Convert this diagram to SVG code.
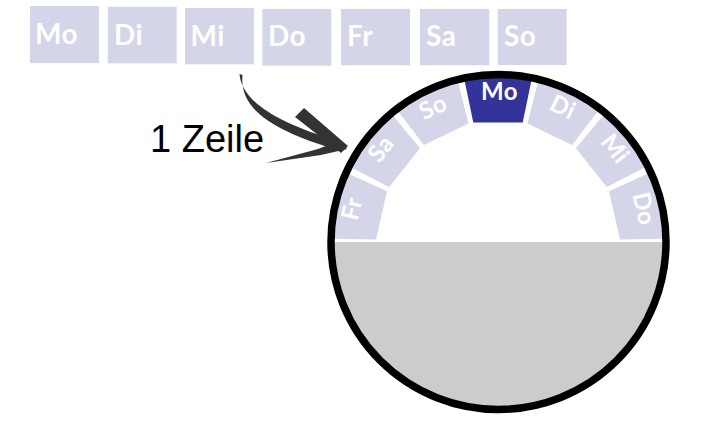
<svg xmlns="http://www.w3.org/2000/svg" width="709" height="445" viewBox="0 0 709 445">
<style>
.box{fill:#d5d5e9}
.seg{fill:#d5d5e9}
.sel{fill:#333399}
.tl{font-family:Lato,"DejaVu Sans",sans-serif;font-size:28px;font-weight:700;fill:#ffffff;letter-spacing:0.5px}
.rl{font-family:Lato,"DejaVu Sans",sans-serif;font-size:24px;font-weight:700;fill:#ffffff;text-anchor:middle;letter-spacing:0.5px}
.cap{font-family:"Liberation Sans",Arial,sans-serif;font-size:38px;fill:#000000}
.arr{fill:#333333}
</style>
<defs>
<clipPath id="inside"><circle cx="498.5" cy="242" r="166"/></clipPath>
</defs>
<rect width="709" height="445" fill="#ffffff"/>
<g id="top-days">
<g id="top-mo"><rect class="box" x="30" y="6" width="69" height="57"/><text class="tl" x="35" y="44">Mo</text></g>
<g id="top-di"><rect class="box" x="107.7" y="6.7" width="69" height="56.6"/><text class="tl" x="114" y="44.5">Di</text></g>
<g id="top-mi"><rect class="box" x="185" y="8" width="69" height="56.3"/><text class="tl" x="190.5" y="45.5">Mi</text></g>
<g id="top-do"><rect class="box" x="262.3" y="9" width="69" height="56.7"/><text class="tl" x="268" y="45.5">Do</text></g>
<g id="top-fr"><rect class="box" x="341" y="9" width="69" height="56.3"/><text class="tl" x="347" y="45.5">Fr</text></g>
<g id="top-sa"><rect class="box" x="420" y="9" width="69.3" height="56.3"/><text class="tl" x="426" y="45.5">Sa</text></g>
<g id="top-so"><rect class="box" x="497.7" y="9" width="69" height="56"/><text class="tl" x="504" y="45.5">So</text></g>
</g>
<g id="label"><text class="cap" x="150" y="152">1 Zeile</text></g>
<g id="connectors">
<path class="arr" d="M239.5,74 C242,101 274,121 337,141 L341,151 C272,131 239,109 242.5,75 Z"/>
<path class="arr" d="M295,117 L304,108 L348,146 L341,153 Z"/>
<path class="arr" d="M266,163 L318,149 L339,141 L347,149 L321,155 Z"/>
</g>
<g id="dial">
<g clip-path="url(#inside)">
<rect id="lower" x="320" y="242" width="360" height="180" fill="#cccccc"/>
<g id="seg-mo"><polygon class="sel" points="522.7,122.5 473.3,122.5 461.5,65.7 534.5,65.7"/></g>
<g id="seg-di"><polygon class="seg" points="572.1,145.1 527.5,123.6 541.6,67.3 607.4,99"/></g>
<g id="seg-mi"><polygon class="seg" points="606.8,186.9 576,148.2 613,103.6 658.6,160.6"/></g>
<g id="seg-do"><polygon class="seg" points="620,239.5 609,191.3 661.7,167.2 678,238.4"/></g>
<g id="seg-so"><polygon class="seg" points="423.9,145.1 468.5,123.6 454.4,67.3 388.6,99"/></g>
<g id="seg-sa"><polygon class="seg" points="389.2,186.9 420,148.2 383,103.6 337.4,160.6"/></g>
<g id="seg-fr"><polygon class="seg" points="376,239.5 387,191.3 334.3,167.2 318,238.4"/></g>
</g>
<text class="rl" transform="translate(499.5,91) rotate(0)" y="8.5">Mo</text>
<text class="rl" transform="translate(563.1,106.9) rotate(25.71)" y="8.5">Di</text>
<text class="rl" transform="translate(615.3,148.5) rotate(51.43)" y="8.5">Mi</text>
<text class="rl" transform="translate(644.2,208.6) rotate(77.14)" y="8.5">Do</text>
<text class="rl" transform="translate(432.9,106.9) rotate(-25.71)" y="8.5">So</text>
<text class="rl" transform="translate(380.7,148.5) rotate(-51.43)" y="8.5">Sa</text>
<text class="rl" transform="translate(351.8,208.6) rotate(-77.14)" y="8.5">Fr</text>
<circle cx="498.5" cy="242" r="167.5" fill="none" stroke="#000000" stroke-width="7.5"/>
</g>
</svg>
